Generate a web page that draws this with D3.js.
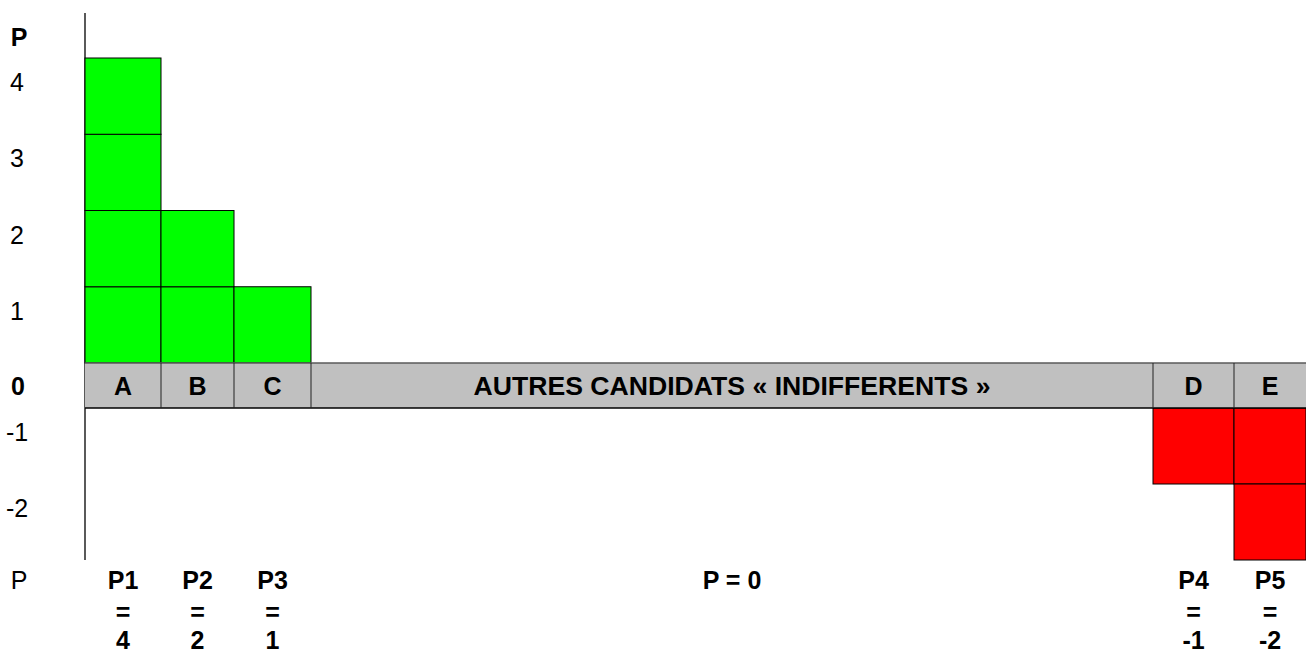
<!DOCTYPE html>
<html>
<head>
<meta charset="utf-8">
<script src="https://cdn.jsdelivr.net/npm/d3@7"></script>
<style>
  body { margin: 0; background: #fff; }
  text { font-family: "Liberation Sans", Arial, sans-serif; fill: #000; }
  .bold { font-weight: bold; }
</style>
</head>
<body>
<div id="chart"></div>
<script>
// data
const candidates = ['A', 'B', 'C', 'AUTRES CANDIDATS « INDIFFERENTS »', 'D', 'E']
const points = [4, 2, 1, 0, -1, -2]
const pNames = ['P1', 'P2', 'P3', 'P = 0', 'P4', 'P5']
const yTicks = [4, 3, 2, 1, -1, -2]
// relative column widths (middle column is the wide "indifferent" one)
const colWeights = [76, 73, 77, 842, 81, 72]

const width = 1306
const height = 657
const x0 = 85
const fs = '25px'

const svg = d3.select('#chart')
  .append('svg')
  .attr('width', width)
  .attr('height', height)

// columns laid out from cumulative weights
const cum = [0]
colWeights.forEach(w => cum.push(cum[cum.length - 1] + w))
const x = d3.scaleLinear().domain([0, cum[cum.length - 1]]).range([x0, width])
const cols = candidates.map((c, i) => ({
  name: c, p: points[i], label: pNames[i],
  x1: x(cum[i]), x2: x(cum[i + 1])
}))
cols.forEach(c => c.cx = (c.x1 + c.x2) / 2)

// positive boxes above the band, negative below it
const yPos = d3.scaleLinear().domain([0, 4]).range([363, 58])
const yNeg = d3.scaleLinear().domain([0, -2]).range([408, 560])

// axis line
svg.append('line')
  .attr('x1', x0).attr('x2', x0)
  .attr('y1', 13).attr('y2', 560)
  .attr('stroke', '#000').attr('stroke-width', 1.3)

const boxes = []
cols.forEach(c => {
  for (let k = 1; k <= Math.abs(c.p); k++) {
    if (c.p > 0) boxes.push({ x1: c.x1, x2: c.x2, y1: yPos(k), y2: yPos(k - 1), fill: '#00ff00' })
    else boxes.push({ x1: c.x1, x2: c.x2, y1: yNeg(-(k - 1)), y2: yNeg(-k), fill: '#ff0000' })
  }
})

svg.selectAll('rect.box')
  .data(boxes)
  .enter()
  .append('rect')
  .attr('class', 'box')
  .attr('x', d => d.x1)
  .attr('y', d => d.y1)
  .attr('width', d => d.x2 - d.x1)
  .attr('height', d => d.y2 - d.y1)
  .attr('fill', d => d.fill)
  .attr('stroke', '#000')
  .attr('stroke-width', 1)

// grey zero band
const bandTop = yPos(0)
const bandBot = yNeg(0)
svg.append('rect')
  .attr('x', x0).attr('y', bandTop)
  .attr('width', width - x0).attr('height', bandBot - bandTop)
  .attr('fill', '#c0c0c0')
svg.append('line')
  .attr('x1', x0).attr('x2', width).attr('y1', bandTop).attr('y2', bandTop)
  .attr('stroke', '#5a5a5a').attr('stroke-width', 1.3)
svg.append('line')
  .attr('x1', x0).attr('x2', width).attr('y1', bandBot).attr('y2', bandBot)
  .attr('stroke', '#000').attr('stroke-width', 1.3)
svg.selectAll('line.div')
  .data(cols.slice(1))
  .enter()
  .append('line')
  .attr('class', 'div')
  .attr('x1', d => d.x1).attr('x2', d => d.x1)
  .attr('y1', bandTop).attr('y2', bandBot)
  .attr('stroke', '#222').attr('stroke-width', 1)

// candidate names; the long one is condensed like a narrow font
svg.selectAll('text.cand')
  .data(cols)
  .enter()
  .append('text')
  .attr('class', 'cand bold')
  .attr('x', d => d.cx)
  .attr('y', (bandTop + bandBot) / 2)
  .attr('dy', '0.36em')
  .attr('text-anchor', 'middle')
  .style('font-size', (d, i) => i === 3 ? '26px' : fs)
  .each(function (d, i) {
    if (i === 3) d3.select(this).attr('textLength', 517).attr('lengthAdjust', 'spacingAndGlyphs')
  })
  .text(d => d.name)

// y labels
const yLab = v => v > 0 ? (yPos(v) + yPos(v - 1)) / 2 - 14 : (yNeg(v) + yNeg(v + 1)) / 2 - 14
svg.selectAll('text.ytick')
  .data(yTicks)
  .enter()
  .append('text')
  .attr('class', 'ytick')
  .attr('x', 17)
  .attr('y', d => yLab(d))
  .attr('dy', '0.36em')
  .attr('text-anchor', 'middle')
  .style('font-size', fs)
  .text(d => d)

svg.append('text')
  .attr('class', 'bold')
  .attr('x', 18).attr('y', (bandTop + bandBot) / 2).attr('dy', '0.36em')
  .attr('text-anchor', 'middle')
  .style('font-size', fs)
  .text('0')

svg.append('text')
  .attr('class', 'bold')
  .attr('x', 19).attr('y', yPos(4) - 21).attr('dy', '0.36em')
  .attr('text-anchor', 'middle')
  .style('font-size', fs)
  .text('P')

// bottom P rows
const rowY = [580, 612, 640]
svg.append('text')
  .attr('x', 19).attr('y', rowY[0]).attr('dy', '0.36em')
  .attr('text-anchor', 'middle')
  .style('font-size', fs)
  .text('P')

cols.forEach(c => {
  const lines = c.p === 0 ? [c.label] : [c.label, '=', String(c.p)]
  lines.forEach((t, j) => {
    svg.append('text')
      .attr('class', 'bold')
      .attr('x', c.cx)
      .attr('y', rowY[j])
      .attr('dy', '0.36em')
      .attr('text-anchor', 'middle')
      .style('font-size', fs)
      .text(t)
  })
})
</script>
</body>
</html>
